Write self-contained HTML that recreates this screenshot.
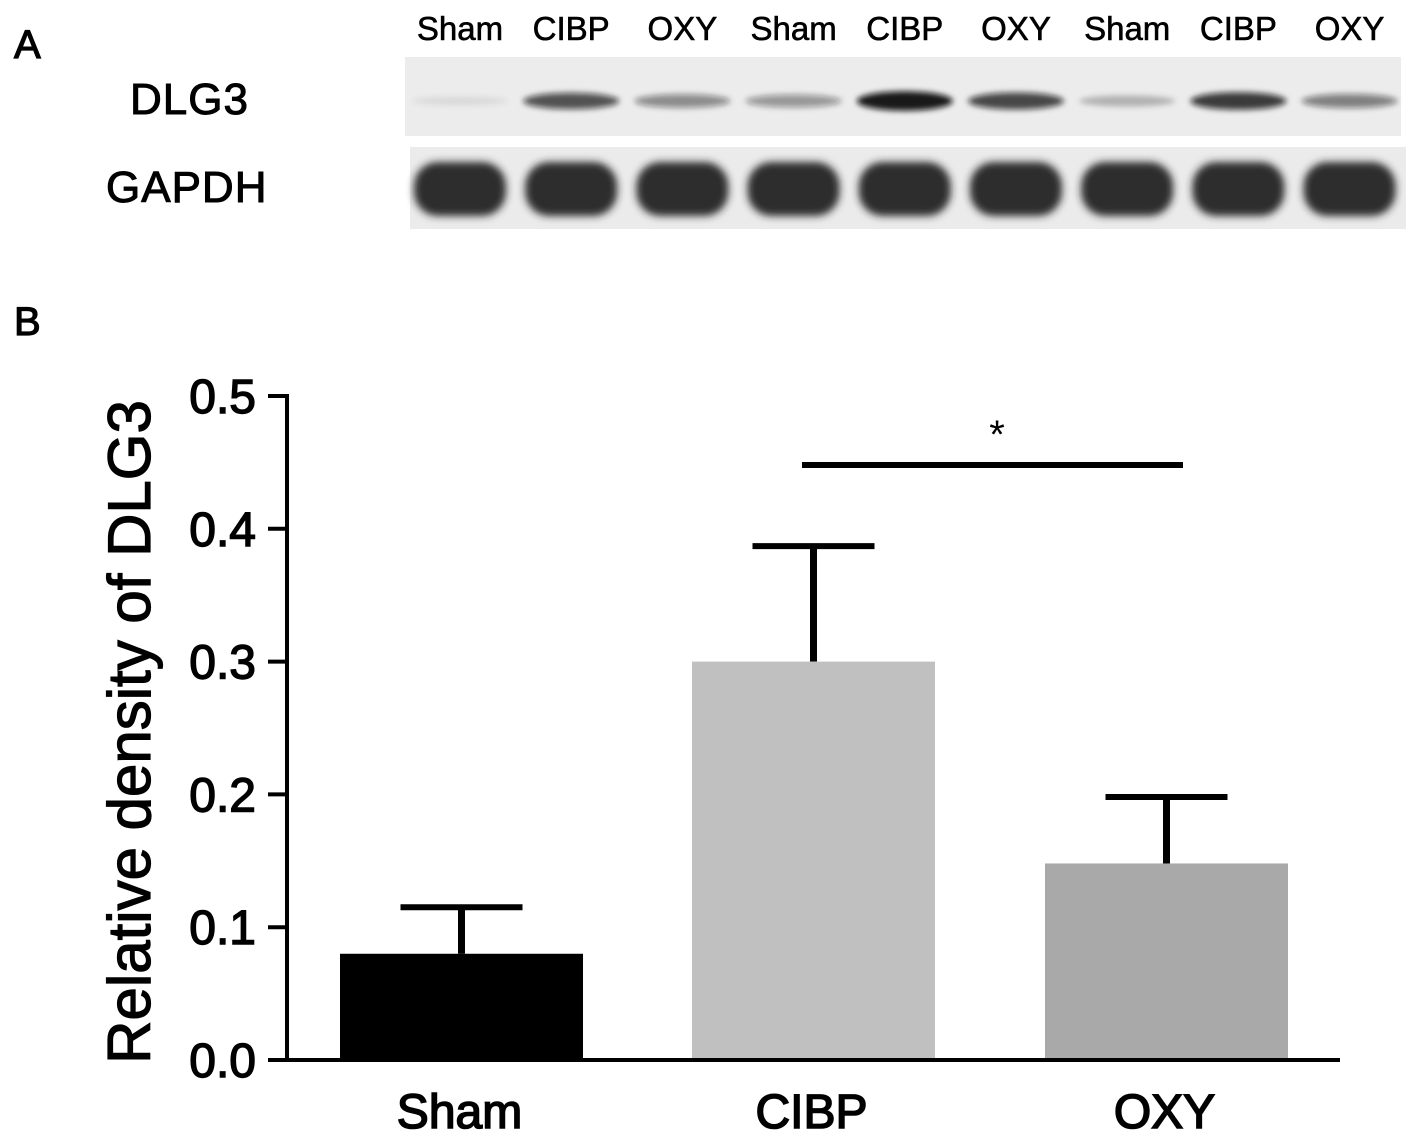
<!DOCTYPE html>
<html><head><meta charset="utf-8"><style>
html,body{margin:0;padding:0;background:#fff;}
svg{display:block;font-family:"Liberation Sans",Arial,sans-serif;}
</style></head><body>
<svg id="fig" width="1417" height="1146" viewBox="0 0 1417 1146">
<defs>
<filter id="blur" x="-20%" y="-50%" width="140%" height="200%"><feGaussianBlur stdDeviation="4"/></filter>
<filter id="blur2" x="-20%" y="-50%" width="140%" height="200%"><feGaussianBlur stdDeviation="3"/></filter>
</defs>
<text x="14" y="58" font-size="40" stroke="#000" stroke-width="1.2">A</text>
<text x="14" y="335" font-size="40" stroke="#000" stroke-width="1.2">B</text>
<text x="130" y="114" font-size="44" letter-spacing="1" stroke="#000" stroke-width="1">DLG3</text>
<text x="106" y="202" font-size="44" letter-spacing="1" stroke="#000" stroke-width="1">GAPDH</text>
<rect x="405" y="57" width="996" height="79" fill="#ececec"/>
<rect x="410" y="147" width="996" height="82" fill="#ebebeb"/>
<g id="blot"></g>
<g id="chart"></g>
</svg>
<script>
const laneLabels=["Sham","CIBP","OXY","Sham","CIBP","OXY","Sham","CIBP","OXY"];
const dlg3Intensity=[0.08,0.7,0.45,0.4,0.95,0.75,0.25,0.8,0.5];
const gapdhIntensity=[0.95,0.95,0.95,0.95,0.95,0.95,0.95,0.95,0.95];
const categories=["Sham","CIBP","OXY"];
const means=[0.08,0.30,0.148];
const errs=[0.035,0.087,0.05];
const yTicks=[0.0,0.1,0.2,0.3,0.4,0.5];
const yTickLabels=["0.0","0.1","0.2","0.3","0.4","0.5"];
const NS="http://www.w3.org/2000/svg";
function mk(tag,attrs,parent){const e=document.createElementNS(NS,tag);for(const k in attrs)e.setAttribute(k,attrs[k]);parent.appendChild(e);return e;}
const blot=document.getElementById('blot');
const laneX=i=>460+i*111.2;
laneLabels.forEach((l,i)=>{
  const t=mk('text',{x:laneX(i),y:40,'font-size':33,'text-anchor':'middle',stroke:'#000','stroke-width':0.6},blot);
  t.textContent=l;
  
  
  const v=dlg3Intensity[i];
  const b=mk('ellipse',{cx:laneX(i),cy:101,rx:48,ry:4+6*v,fill:'#111','fill-opacity':v,filter:'url(#blur2)'},blot);
  
  
  const g=mk('rect',{x:laneX(i)-46,y:162,width:92,height:54,rx:24,fill:'#222','fill-opacity':gapdhIntensity[i],filter:'url(#blur)'},blot);
  
  
});
const chart=document.getElementById('chart');
const y0=1060,y1=396,xAxis=287;
const yS=v=>y0-(v/0.5)*(y0-y1);
const barX=[340,692,1045],barW=243;
const colors=["#000000","#c0c0c0","#a9a9a9"];
categories.forEach((c,i)=>{
  const x=barX[i],cx=x+barW/2;
  const top=yS(means[i]),et=yS(means[i]+errs[i]);
  const ln=mk('line',{x1:cx,y1:top,x2:cx,y2:et,stroke:'#000','stroke-width':7},chart);
  
  
  const cap=mk('line',{x1:cx-61,y1:et,x2:cx+61,y2:et,stroke:'#000','stroke-width':6},chart);
  
  
  const r=mk('rect',{x:x,y:top,width:barW,height:y0-top,fill:colors[i]},chart);
  
  
  const t=mk('text',{x:cx-2,y:1128,'font-size':48,'text-anchor':'middle',stroke:'#000','stroke-width':1.6},chart);
  t.textContent=c;
  
  
});
const ya=mk('line',{x1:xAxis,y1:y1-2,x2:xAxis,y2:y0+2,stroke:'#000','stroke-width':4},chart);


const xa=mk('line',{x1:xAxis-2,y1:y0,x2:1340,y2:y0,stroke:'#000','stroke-width':4},chart);


yTicks.forEach((v,i)=>{
  const y=yS(v);
  const tk=mk('line',{x1:268,y1:y,x2:xAxis,y2:y,stroke:'#000','stroke-width':4},chart);
  
  
  const t=mk('text',{x:256,y:y+17,'font-size':48,'text-anchor':'end',stroke:'#000','stroke-width':1.4},chart);
  t.textContent=yTickLabels[i];
  
  
});
const yt=mk('text',{x:0,y:0,'font-size':60,'text-anchor':'middle',stroke:'#000','stroke-width':1.2,transform:'translate(150,732) rotate(-90)'},chart);
yt.textContent="Relative density of DLG3";


const sig=mk('line',{x1:802,y1:465,x2:1183,y2:465,stroke:'#000','stroke-width':6},chart);


const st=mk('text',{x:997,y:448,'font-size':40,'text-anchor':'middle'},chart);
st.textContent="*";


</script>
</body></html>
